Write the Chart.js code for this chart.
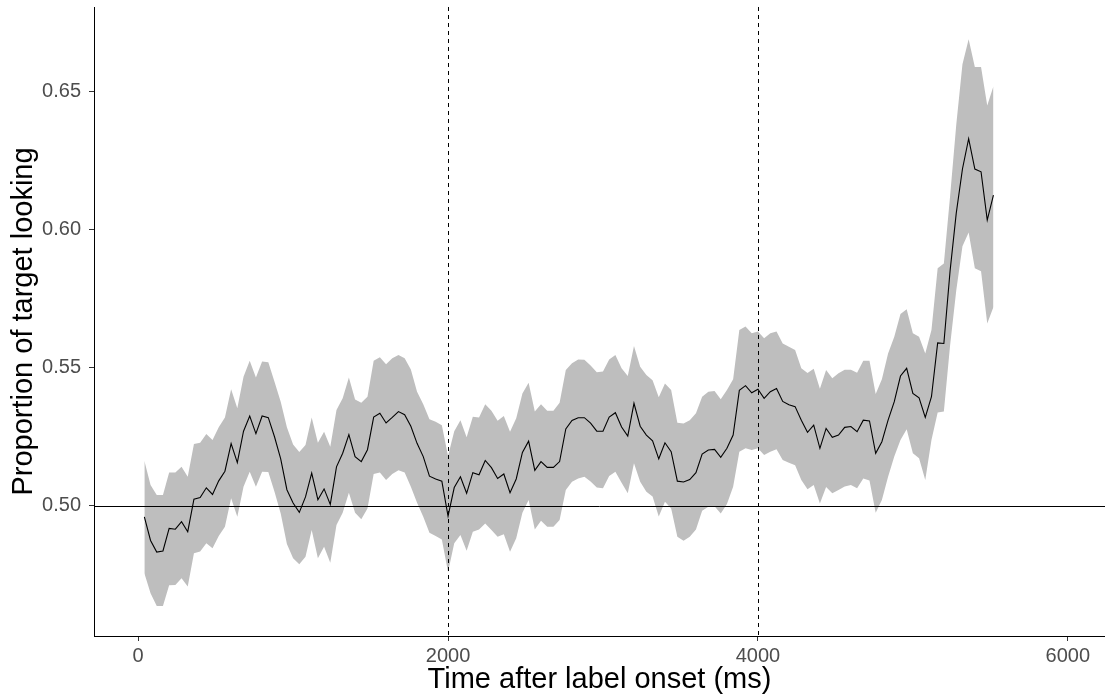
<!DOCTYPE html>
<html lang="en">
<head>
    <meta charset="UTF-8">
    <title>Proportion of target looking</title>
    <script src="https://cdn.jsdelivr.net/npm/chart.js"></script>
    <style>
        body {
            margin: 0;
            padding: 0;
            background-color: #ffffff;
        }
        .wrap {
            width: 1105px;
            height: 699px;
        }
    </style>
</head>
<body>
<div class="wrap">
    <canvas id="lookChart" width="1105" height="699"></canvas>
</div>
<script>
    // Time bins (ms after label onset)
    const timeMs = [
        40, 80, 120, 160, 200, 240, 280, 320, 360, 400,
        440, 480, 520, 560, 600, 640, 680, 720, 760, 800,
        840, 880, 920, 960, 1000, 1040, 1080, 1120, 1160, 1200,
        1240, 1280, 1320, 1360, 1400, 1440, 1480, 1520, 1560, 1600,
        1640, 1680, 1720, 1760, 1800, 1840, 1880, 1920, 1960, 2000,
        2040, 2080, 2120, 2160, 2200, 2240, 2280, 2320, 2360, 2400,
        2440, 2480, 2520, 2560, 2600, 2640, 2680, 2720, 2760, 2800,
        2840, 2880, 2920, 2960, 3000, 3040, 3080, 3120, 3160, 3200,
        3240, 3280, 3320, 3360, 3400, 3440, 3480, 3520, 3560, 3600,
        3640, 3680, 3720, 3760, 3800, 3840, 3880, 3920, 3960, 4000,
        4040, 4080, 4120, 4160, 4200, 4240, 4280, 4320, 4360, 4400,
        4440, 4480, 4520, 4560, 4600, 4640, 4680, 4720, 4760, 4800,
        4840, 4880, 4920, 4960, 5000, 5040, 5080, 5120, 5160, 5200,
        5240, 5280, 5320, 5360, 5400, 5440, 5480, 5520
    ];

    // Mean proportion of target looking
    const meanProp = [
        0.4960, 0.4874, 0.4832, 0.4836, 0.4918, 0.4915, 0.4942, 0.4906, 0.5024, 0.5030,
        0.5065, 0.5041, 0.5090, 0.5125, 0.5225, 0.5156, 0.5270, 0.5325, 0.5261, 0.5325,
        0.5319, 0.5250, 0.5170, 0.5058, 0.5010, 0.4976, 0.5032, 0.5118, 0.5022, 0.5061,
        0.5005, 0.5141, 0.5190, 0.5258, 0.5178, 0.5160, 0.5203, 0.5321, 0.5335, 0.5300,
        0.5320, 0.5341, 0.5330, 0.5288, 0.5226, 0.5178, 0.5107, 0.5097, 0.5089, 0.4962,
        0.5066, 0.5105, 0.5045, 0.5120, 0.5112, 0.5164, 0.5138, 0.5099, 0.5115, 0.5047,
        0.5097, 0.5193, 0.5234, 0.5128, 0.5160, 0.5139, 0.5139, 0.5160, 0.5278, 0.5309,
        0.5319, 0.5319, 0.5299, 0.5270, 0.5270, 0.5321, 0.5337, 0.5285, 0.5252, 0.5371,
        0.5288, 0.5256, 0.5235, 0.5170, 0.5228, 0.5196, 0.5089, 0.5086, 0.5095, 0.5120,
        0.5187, 0.5202, 0.5204, 0.5175, 0.5208, 0.5256, 0.5418, 0.5435, 0.5409, 0.5422,
        0.5389, 0.5413, 0.5425, 0.5378, 0.5366, 0.5359, 0.5310, 0.5266, 0.5292, 0.5208,
        0.5280, 0.5248, 0.5256, 0.5284, 0.5287, 0.5268, 0.5310, 0.5307, 0.5190, 0.5232,
        0.5310, 0.5377, 0.5470, 0.5498, 0.5407, 0.5391, 0.5320, 0.5395, 0.5590, 0.5588,
        0.5850, 0.6060, 0.6220, 0.6330, 0.6220, 0.6210, 0.6035, 0.6125
    ];

    // Upper edge of the confidence band
    const upperProp = [
        0.5163, 0.5075, 0.5039, 0.5039, 0.5120, 0.5120, 0.5141, 0.5105, 0.5224, 0.5228,
        0.5260, 0.5238, 0.5284, 0.5320, 0.5422, 0.5353, 0.5467, 0.5525, 0.5465, 0.5523,
        0.5520, 0.5449, 0.5377, 0.5284, 0.5222, 0.5195, 0.5220, 0.5320, 0.5228, 0.5268,
        0.5214, 0.5347, 0.5389, 0.5465, 0.5385, 0.5373, 0.5395, 0.5525, 0.5538, 0.5513,
        0.5534, 0.5546, 0.5534, 0.5494, 0.5413, 0.5368, 0.5313, 0.5304, 0.5292, 0.5180,
        0.5270, 0.5310, 0.5248, 0.5322, 0.5320, 0.5368, 0.5344, 0.5308, 0.5325, 0.5268,
        0.5317, 0.5407, 0.5446, 0.5341, 0.5368, 0.5344, 0.5344, 0.5373, 0.5492, 0.5516,
        0.5530, 0.5529, 0.5508, 0.5484, 0.5486, 0.5530, 0.5546, 0.5498, 0.5470, 0.5579,
        0.5504, 0.5474, 0.5455, 0.5393, 0.5443, 0.5419, 0.5301, 0.5298, 0.5310, 0.5335,
        0.5395, 0.5413, 0.5416, 0.5386, 0.5419, 0.5458, 0.5637, 0.5649, 0.5625, 0.5631,
        0.5607, 0.5625, 0.5631, 0.5588, 0.5576, 0.5564, 0.5498, 0.5481, 0.5496, 0.5424,
        0.5492, 0.5462, 0.5480, 0.5493, 0.5493, 0.5482, 0.5525, 0.5525, 0.5405, 0.5458,
        0.5552, 0.5612, 0.5695, 0.5712, 0.5625, 0.5612, 0.5552, 0.5637, 0.5860, 0.5878,
        0.6120, 0.6380, 0.6600, 0.6690, 0.6590, 0.6590, 0.6450, 0.6520
    ];

    // Lower edge of the confidence band
    const lowerProp = [
        0.4755, 0.4683, 0.4637, 0.4637, 0.4712, 0.4713, 0.4737, 0.4707, 0.4828, 0.4834,
        0.4864, 0.4846, 0.4890, 0.4924, 0.5027, 0.4960, 0.5069, 0.5123, 0.5069, 0.5123,
        0.5122, 0.5051, 0.4972, 0.4861, 0.4810, 0.4788, 0.4815, 0.4912, 0.4810, 0.4851,
        0.4793, 0.4930, 0.4975, 0.5047, 0.4975, 0.4951, 0.4990, 0.5115, 0.5120, 0.5093,
        0.5115, 0.5129, 0.5120, 0.5069, 0.5011, 0.4960, 0.4902, 0.4890, 0.4878, 0.4760,
        0.4864, 0.4894, 0.4837, 0.4906, 0.4914, 0.4936, 0.4912, 0.4888, 0.4897, 0.4833,
        0.4882, 0.4975, 0.5021, 0.4914, 0.4946, 0.4924, 0.4924, 0.4948, 0.5057, 0.5087,
        0.5099, 0.5105, 0.5088, 0.5066, 0.5063, 0.5108, 0.5123, 0.5083, 0.5045, 0.5154,
        0.5087, 0.5051, 0.5033, 0.4961, 0.5014, 0.4990, 0.4888, 0.4873, 0.4888, 0.4914,
        0.4982, 0.4996, 0.4998, 0.4972, 0.5006, 0.5069, 0.5196, 0.5208, 0.5202, 0.5208,
        0.5184, 0.5196, 0.5205, 0.5166, 0.5156, 0.5147, 0.5093, 0.5060, 0.5075, 0.5008,
        0.5068, 0.5045, 0.5057, 0.5070, 0.5075, 0.5063, 0.5099, 0.5091, 0.4975, 0.5021,
        0.5105, 0.5178, 0.5238, 0.5277, 0.5190, 0.5172, 0.5093, 0.5238, 0.5338, 0.5341,
        0.5580, 0.5780, 0.5940, 0.5990, 0.5860, 0.5850, 0.5660, 0.5720
    ];

    // Axis ticks and reference lines
    const xTicks = [0, 2000, 4000, 6000];
    const yTicks = [0.50, 0.55, 0.60, 0.65];
    const chanceLevel = [0.5];
    const windowMarks = [2000, 4000];

    const toPoints = arr => arr.map((v, i) => ({ x: timeMs[i], y: v }));

    // Reference lines drawn over the band, like geom_hline / geom_vline
    const refLines = {
        id: 'refLines',
        afterDatasetsDraw(chart) {
            const { ctx, chartArea: a, scales: { x, y } } = chart;
            ctx.save();
            ctx.strokeStyle = '#000000';
            ctx.lineWidth = 1;
            chanceLevel.forEach(v => {
                const py = Math.round(y.getPixelForValue(v)) + 0.5;
                ctx.beginPath();
                ctx.moveTo(a.left, py);
                ctx.lineTo(a.right, py);
                ctx.stroke();
            });
            ctx.setLineDash([4, 4]);
            windowMarks.forEach(v => {
                const px = Math.round(x.getPixelForValue(v)) + 0.5;
                ctx.beginPath();
                ctx.moveTo(px, a.top);
                ctx.lineTo(px, a.bottom);
                ctx.stroke();
            });
            ctx.restore();
        }
    };

    const tickFont = { family: "'Liberation Sans', Arial, sans-serif", size: 20 };
    const titleFont = { family: "'Liberation Sans', Arial, sans-serif", size: 29 };

    const ctx = document.getElementById('lookChart').getContext('2d');
    const lookChart = new Chart(ctx, {
        type: 'line',
        data: {
            datasets: [
                {
                    label: 'mean',
                    data: toPoints(meanProp),
                    borderWidth: 1.1,
                    borderColor: '#000000',
                    pointRadius: 0,
                    fill: false,
                    tension: 0,
                    order: 0
                },
                {
                    label: 'upper',
                    data: toPoints(upperProp),
                    borderWidth: 0,
                    borderColor: 'rgba(0,0,0,0)',
                    backgroundColor: '#bebebe',
                    pointRadius: 0,
                    fill: '+1',
                    tension: 0,
                    order: 1
                },
                {
                    label: 'lower',
                    data: toPoints(lowerProp),
                    borderWidth: 0,
                    borderColor: 'rgba(0,0,0,0)',
                    pointRadius: 0,
                    fill: false,
                    tension: 0,
                    order: 2
                }
            ]
        },
        options: {
            responsive: false,
            animation: false,
            layout: { padding: { top: 7, right: 0, bottom: 0, left: 0 } },
            plugins: {
                legend: { display: false },
                tooltip: { enabled: false }
            },
            scales: {
                x: {
                    type: 'linear',
                    min: -285,
                    max: 6240,
                    afterBuildTicks: s => { s.ticks = xTicks.map(v => ({ value: v })); },
                    afterFit: s => {
                        s.height = 63;
                        s.paddingLeft = 0;
                        s.paddingRight = 0;
                    },
                    ticks: {
                        callback: v => String(v),
                        font: tickFont,
                        color: '#4d4d4d',
                        padding: 3,
                        maxRotation: 0
                    },
                    grid: {
                        display: true,
                        drawOnChartArea: false,
                        drawTicks: true,
                        tickLength: 5,
                        color: '#333333'
                    },
                    border: { display: true, color: '#000000', width: 1 },
                    title: {
                        display: true,
                        text: 'Time after label onset (ms)',
                        font: titleFont,
                        color: '#000000',
                        padding: { top: 0, bottom: 2 }
                    }
                },
                y: {
                    type: 'linear',
                    min: 0.4528,
                    max: 0.6807,
                    afterBuildTicks: s => { s.ticks = yTicks.map(v => ({ value: v })); },
                    afterFit: s => {
                        s.width = 94;
                        s.paddingTop = 0;
                        s.paddingBottom = 0;
                    },
                    ticks: {
                        callback: v => v.toFixed(2),
                        font: tickFont,
                        color: '#4d4d4d',
                        padding: 8
                    },
                    grid: {
                        display: true,
                        drawOnChartArea: false,
                        drawTicks: true,
                        tickLength: 5,
                        color: '#333333'
                    },
                    border: { display: true, color: '#000000', width: 1 },
                    title: {
                        display: true,
                        text: 'Proportion of target looking',
                        font: titleFont,
                        color: '#000000',
                        padding: { top: 7, bottom: 0 }
                    }
                }
            }
        },
        plugins: [refLines]
    });
</script>
</body>
</html>
